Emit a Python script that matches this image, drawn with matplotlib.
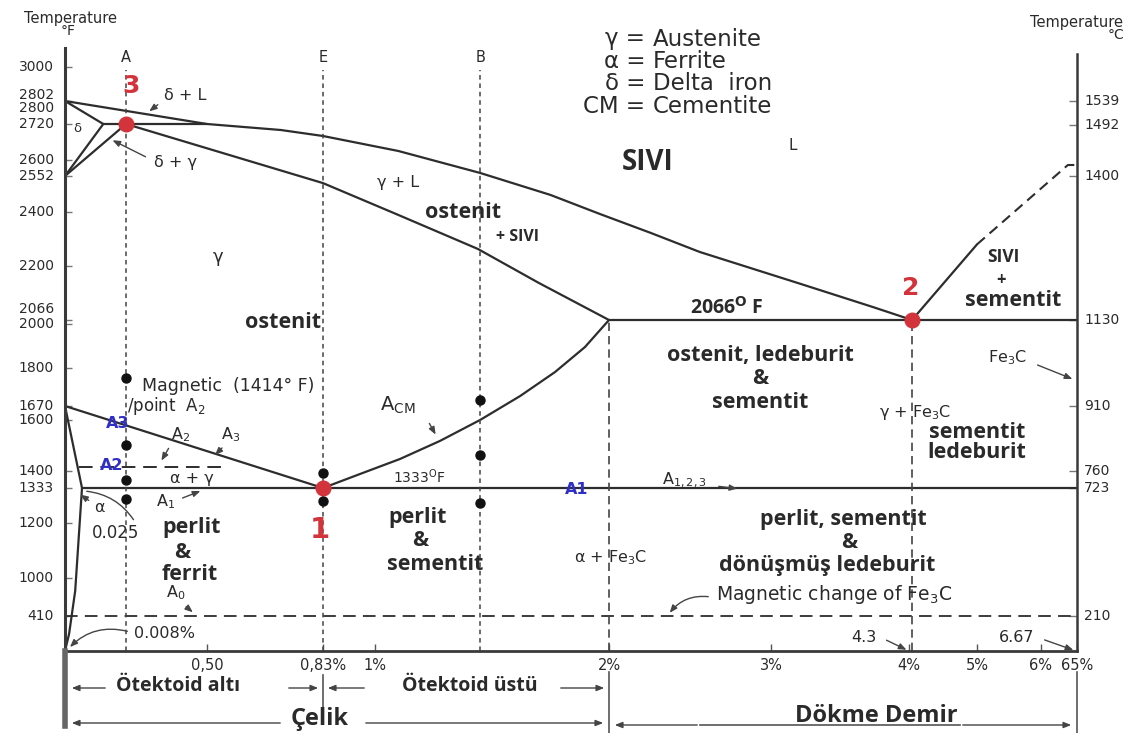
import numpy as np
import matplotlib.pyplot as plt
from matplotlib.transforms import Affine2D

W, H = 1136, 733

# the diagram is drawn on distorted axes; knots give wt% C / deg F -> position
x_knots = [0, 0.025, 0.18, 0.5, 0.83, 1, 2, 3, 4, 4.3, 5, 6, 6.67]
x_pos = [65, 82, 126, 207, 323, 375, 609, 771, 909, 912, 977, 1041, 1077]
t_knots = [0, 410, 1000, 1200, 1333, 1600, 1670, 1800, 2000, 2066,
           2200, 2400, 2552, 2600, 2720, 2802, 3000, 3060]
t_pos = [651, 616, 578, 523, 488, 420, 406, 368, 324, 320,
         266, 212, 176, 160, 124, 101, 67, 48]
t_h = [H - p for p in t_pos]

# phase boundaries (wt% C, deg F)
liquidus_wt = [0, 0.5, 0.71, 0.83, 1.1, 1.45, 1.75, 1.96, 2.26, 2.56, 3.22, 3.74, 4.3]
liquidus_f = [2802, 2720, 2700, 2680, 2630, 2561, 2472, 2393, 2322, 2252, 2155, 2098, 2066]
solidus_wt = [0.18, 0.83, 1.1, 1.44, 1.7, 2.0]
solidus_f = [2720, 2522, 2389, 2263, 2158, 2066]
acm_wt = [0.83, 0.951, 1.107, 1.278, 1.449, 1.62, 1.769, 1.897, 2.0]
acm_f = [1333, 1388, 1447, 1518, 1600, 1704, 1786, 1895, 2066]
a3_wt = [0, 0.83]
a3_f = [1670, 1333]
gp_wt = [0, 0.025]
gp_f = [1670, 1333]
solvus_wt = [0.025, 0.015, 0.006, 0]
solvus_f = [1333, 800, 200, 0]
delta_sol_wt = [0, 0.1]
delta_sol_f = [2802, 2720]
delta_gam_wt = [0, 0.1]
delta_gam_f = [2552, 2720]
gam_delta_wt = [0, 0.18]
gam_delta_f = [2552, 2720]
peritectic_wt = [0.1, 0.5]
peritectic_f = [2720, 2720]
eutectic_wt = [2.0, 6.67]
eutectic_f = [2066, 2066]
eutectoid_wt = [0.025, 6.67]
eutectoid_f = [1333, 1333]
cm_liq_wt = [4.3, 5.0]
cm_liq_f = [2066, 2280]
cm_liq_dash_wt = [5.0, 6.5, 6.67]
cm_liq_dash_f = [2280, 2585, 2585]

a2_f = 1414
a2_wt = [0.02, 0.55]
mag_fe3c_f = 410

# alloy lines A, E, B and the 2% / 4.3% guides
alloy_names = ['A', 'E', 'B']
alloy_wt = [0.18, 0.83, 1.45]
guide_wt = [2.0, 4.3]

red_wt = [0.18, 0.83, 4.3]
red_f = [2720, 1333, 2066]
red_names = ['3', '1', '2']
dots_wt = [0.18, 0.18, 0.18, 0.18, 0.83, 0.83, 1.45, 1.45, 1.45]
dots_f = [1766, 1502, 1364, 1291, 1392, 1284, 1691, 1463, 1276]

left_ticks = [3000, 2802, 2800, 2720, 2600, 2552, 2400, 2200, 2066, 2000,
              1800, 1670, 1600, 1400, 1333, 1200, 1000, 410]
left_nudge = {2802: 6, 2800: -6, 2066: 11, 2000: 0}
right_ticks_c = [1539, 1492, 1400, 1130, 910, 760, 723, 210]
x_ticks = [0.5, 0.83, 1, 2, 3, 4, 5, 6, 6.67]
x_labels = ['0,50', '0,83%', '1%', '2%', '3%', '4%', '5%', '6%', '65%']

plt.rcParams['font.family'] = ['DejaVu Sans']
plt.rcParams['mathtext.fontset'] = 'dejavusans'

LINE = '#2d2d2d'
TXT = '#2a2a2a'
RED = '#d3343b'
BLUE = '#2f2fc8'
BOLD = ['Open Sans', 'DejaVu Sans']


def fx(v):
    return np.interp(v, x_knots, x_pos)


def fx_inv(p):
    return np.interp(p, x_pos, x_knots)


def fy(v):
    return np.interp(v, t_knots, t_h)


def fy_inv(p):
    return np.interp(p, t_h, t_knots)


fig = plt.figure(figsize=(W / 100, H / 100), dpi=100)
ax = fig.add_axes([65 / W, (H - 651) / H, (1077 - 65) / W, (651 - 48) / H])
ax.set_xscale('function', functions=(fx, fx_inv))
ax.set_yscale('function', functions=(fy, fy_inv))
ax.set_xlim(0, 6.67)
ax.set_ylim(0, 3060)

# screen coordinates measured from the top-left corner
pix = Affine2D().scale(1, -1).translate(0, H)

ax.spines['top'].set_visible(False)
ax.spines['left'].set_linewidth(2.2)
ax.spines['bottom'].set_linewidth(2.0)
ax.spines['right'].set_linewidth(1.8)
for s in ['left', 'bottom', 'right']:
    ax.spines[s].set_color('#3a3a3a')
ax.spines['right'].set_bounds(0, 3040)

ax.set_xticks(x_ticks, x_labels)
ax.tick_params(axis='x', direction='in', length=5, width=1, pad=5,
               labelsize=10.5, colors='#555', labelcolor=TXT)
ax.set_yticks(left_ticks)
ax.tick_params(axis='y', direction='in', length=5, width=1, labelleft=False,
               colors='#777')
ax.tick_params(axis='y', which='minor', left=False)
ax.tick_params(axis='x', which='minor', bottom=False)

for t in left_ticks:
    ax.annotate(str(t), xy=(0, t), xycoords=('axes fraction', 'data'),
                xytext=(-11, left_nudge.get(t, 0)), textcoords='offset pixels',
                ha='right', va='center', fontsize=10, color=TXT)

right_f = [c * 9 / 5 + 32 for c in right_ticks_c]
ax.plot([6.67] * len(right_f), right_f, ls='none', marker=0, ms=6,
        mew=1, color='#777', clip_on=False)
for c, f in zip(right_ticks_c, right_f):
    ax.annotate(str(c), xy=(1, f), xycoords=('axes fraction', 'data'),
                xytext=(7, 0), textcoords='offset pixels',
                ha='left', va='center', fontsize=10, color=TXT)

# phase boundaries
solid = dict(color=LINE, lw=1.6, solid_capstyle='round', solid_joinstyle='round')
for xs, ys in [(liquidus_wt, liquidus_f), (solidus_wt, solidus_f),
               (acm_wt, acm_f), (a3_wt, a3_f), (gp_wt, gp_f),
               (solvus_wt, solvus_f), (delta_sol_wt, delta_sol_f),
               (delta_gam_wt, delta_gam_f), (gam_delta_wt, gam_delta_f),
               (peritectic_wt, peritectic_f), (eutectic_wt, eutectic_f),
               (eutectoid_wt, eutectoid_f), (cm_liq_wt, cm_liq_f)]:
    ax.plot(xs, ys, **solid)
ax.plot(cm_liq_dash_wt, cm_liq_dash_f, color=LINE, lw=1.5, ls=(0, (5, 3)))

ax.plot(a2_wt, [a2_f, a2_f], color=LINE, lw=1.4, ls=(0, (7, 4)))
ax.plot([0, 6.67], [mag_fe3c_f, mag_fe3c_f], color=LINE, lw=1.3, ls=(0, (7, 4)))

for w in alloy_wt:
    ax.plot([w, w], [0, 2980], color='#444', lw=1.1, ls=(0, (3, 2.5)))
for w in guide_wt:
    ax.plot([w, w], [0, 2066], color='#444', lw=1.2, ls=(0, (5, 3)))
for name, w in zip(alloy_names, alloy_wt):
    ax.annotate(name, xy=(w, 1), xycoords=('data', 'axes fraction'),
                xytext=(0, -10), textcoords='offset pixels',
                ha='center', va='center', fontsize=10.5, color=TXT)

ax.plot(dots_wt, dots_f, 'o', color='#111', ms=6.5, zorder=4)
ax.plot(red_wt, red_f, 'o', color=RED, ms=10.5, zorder=5)


def txt(s, x, y, size=11.5, **kw):
    kw.setdefault('color', TXT)
    kw.setdefault('ha', 'center')
    fig.text(x, y, s, transform=pix, fontsize=size, va='center', **kw)


def lbl(s, x, y, size=15.5, **kw):
    txt(s, x, y, size, family=BOLD, fontweight='bold', **kw)


def lead(x0, y0, x1, y1, rad=0.0, head=True):
    style = '-|>,head_length=0.45,head_width=0.18' if head else '-'
    fig.add_artist(plt.matplotlib.patches.FancyArrowPatch(
        (x0, y0), (x1, y1), transform=pix, arrowstyle=style,
        connectionstyle=f'arc3,rad={rad}', color='#444', lw=1.0,
        mutation_scale=10))


# axis titles
txt('Temperature', 70, 18, 10.5)
txt('°F', 68, 31, 10)
txt('Temperature', 1077, 22, 10.5)
txt('°C', 1116, 35, 10)

# key
keys_l = ['γ', 'α', 'δ', 'CM']
keys_r = ['Austenite', 'Ferrite', 'Delta  iron', 'Cementite']
for i, (kl, kr) in enumerate(zip(keys_l, keys_r)):
    y = 39 + i * 22.5
    txt(kl + ' =', 645, y, 16.5, ha='right')
    txt(kr, 653, y, 16.5, ha='left')

# region names
lbl('SIVI', 648, 163, 20)
txt('L', 793, 145, 11)
lbl('ostenit', 463, 213)
lbl('+ SIVI', 517, 237, 11.5)
lbl('ostenit', 283, 323)
lbl('2066$^{\\mathbf{O}}$ F', 727, 308, 14)
lbl('ostenit, ledeburit', 760, 356)
lbl('&', 760, 379)
lbl('sementit', 760, 402)
lbl('SIVI', 1003, 257, 12.5)
lbl('+', 1001, 280, 12)
lbl('sementit', 1013, 301)
lbl('sementit', 977, 432)
lbl('ledeburit', 977, 453)
lbl('perlit', 192, 527)
lbl('&', 182, 552)
lbl('ferrit', 190, 575)
lbl('perlit', 418, 517)
lbl('&', 420, 540)
lbl('sementit', 435, 564)
lbl('perlit, sementit', 843, 520)
lbl('&', 849, 543)
lbl('dönüşmüş ledeburit', 827, 565)

# small phase and transformation labels
txt('δ + L', 185, 96)
lead(160, 103, 147, 113)
txt('δ', 77, 128, 9.5)
txt('δ + γ', 176, 163)
lead(148, 158, 110, 139)
txt('γ', 218, 257, 13)
txt('γ + L', 398, 182)
txt('Magnetic  (1414° F)', 142, 386, 12.5, ha='left')
txt('/point  A$_2$', 127, 406, 12, ha='left')
txt('A$_2$', 181, 435)
lead(170, 446, 160, 463)
txt('A$_3$', 231, 435)
lead(224, 446, 213, 457)
txt('α + γ', 192, 478)
txt('A$_1$', 166, 502)
lead(180, 499, 203, 490)
txt('α', 99, 507)
lead(91, 502, 78, 493)
txt('0.025', 116, 533, 12)
lead(135, 522, 84, 491, rad=0.25, head=False)
txt('A$_0$', 176, 593)
lead(184, 605, 195, 614)
txt('0.008%', 134, 634, 11.5, ha='left')
lead(130, 632, 68, 649, rad=0.3)
txt('A$_{\\mathregular{CM}}$', 398, 405, 14)
lead(428, 421, 437, 437)
txt('1333$^{\\mathregular{O}}$F', 419, 477, 10)
txt('A$_{1,2,3}$', 684, 480)
lead(716, 486, 740, 489)
txt('α + Fe$_3$C', 611, 558)
txt('γ + Fe$_3$C', 915, 413)
txt('Fe$_3$C', 1008, 358)
lead(1035, 364, 1075, 380)
txt('Magnetic change of Fe$_3$C', 716, 595, 13.5, ha='left')
lead(711, 597, 668, 615, rad=0.3)
txt('4.3', 864, 637, 11.5)
lead(884, 639, 909, 651)
txt('6.67', 1017, 637, 11.5)
lead(1042, 639, 1076, 651)

# critical lines and invariant points
txt('A3', 118, 423, 11.5, color=BLUE, fontweight='bold')
txt('A2', 112, 465, 11.5, color=BLUE, fontweight='bold')
txt('A1', 577, 489, 11.5, color=BLUE, fontweight='bold')
for name, (x, y, s) in zip(red_names, [(131, 86, 18), (320, 530, 21), (911, 288, 18)]):
    txt(name, x, y, s, color=RED, fontweight='bold')

# steel / cast iron ranges under the axis
ext = dict(color='#555', lw=1.2)
fig.add_artist(plt.Line2D([65, 65], [651, 726], transform=pix, color='#666', lw=4))
fig.add_artist(plt.Line2D([1077, 1077], [672, 733], transform=pix, **ext))
fig.add_artist(plt.Line2D([323, 323], [675, 707], transform=pix, **ext))
fig.add_artist(plt.Line2D([609, 609], [672, 733], transform=pix, **ext))
lead(108, 688, 69, 688)
lead(286, 688, 321, 688)
lead(367, 688, 325, 688)
lead(558, 688, 607, 688)
lead(283, 723, 69, 723)
lead(363, 723, 606, 723)
lead(700, 725, 612, 725)
lead(960, 725, 1074, 725)
fig.add_artist(plt.Line2D([700, 960], [725, 725], transform=pix, **ext))
lbl('Ötektoid altı', 178, 686, 14)
lbl('Ötektoid üstü', 470, 686, 14)
lbl('Çelik', 320, 719, 17)
lbl('Dökme Demir', 876, 716, 17)

fig.savefig('out.png', dpi=100)
